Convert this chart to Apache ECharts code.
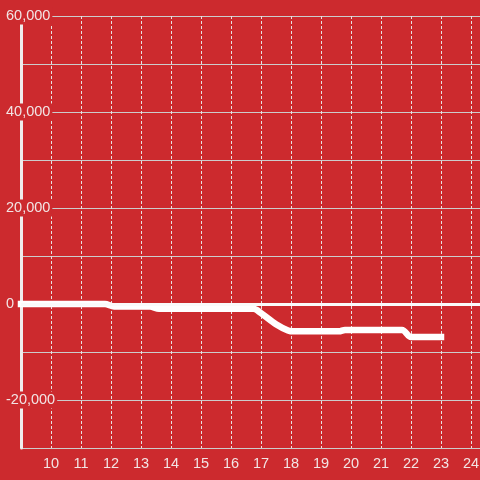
<!DOCTYPE html>
<html>
<head>
<meta charset="utf-8">
<script src="https://cdn.jsdelivr.net/npm/echarts@6/dist/echarts.min.js"></script>
<style>
  html, body { margin: 0; padding: 0; background: #cc2a2e; }
  #chart { width: 480px; height: 480px; }
</style>
</head>
<body>
<div id="chart"></div>
<script>
// hour of day and cumulative value
var hours = [9, 11.8, 12.1, 13.3, 13.6, 16.75, 17, 17.5, 17.9, 18.1, 19.6, 19.8, 21.7, 22, 23];
var values = [0, 0, -500, -500, -1000, -1000, -1900, -4200, -5500, -5700, -5700, -5400, -5400, -6900, -6900];
var yTicks = [-30000, 60000, 10000]; // min, max, step

var seriesData = hours.map(function (h, i) { return [h, values[i]]; });

var chart = echarts.init(document.getElementById('chart'));
chart.setOption({
  backgroundColor: '#cc2a2e',
  animation: false,
  grid: { left: 21, top: 16, bottom: 32, width: 480, outerBoundsMode: 'none', containLabel: false },
  xAxis: {
    type: 'value',
    min: 9,
    max: 25,
    interval: 1,
    axisLine: { show: false },
    axisTick: { show: false },
    axisLabel: {
      color: '#f2e4e4',
      fontSize: 14.5,
      margin: 8,
      fontFamily: 'Liberation Sans',
      formatter: function (v) { return v === 9 ? '' : String(v); }
    },
    splitLine: {
      show: true,
      lineStyle: { color: '#e8e0e0', width: 1, type: [3, 2] }
    }
  },
  yAxis: {
    type: 'value',
    min: yTicks[0],
    max: yTicks[1],
    interval: yTicks[2],
    axisLine: { show: true, lineStyle: { color: '#f0ecec', width: 3 } },
    axisTick: { show: false },
    axisLabel: {
      color: '#f2e4e4',
      fontSize: 14.5,
      fontFamily: 'Liberation Sans',
      align: 'left',
      margin: 15,
      backgroundColor: '#cc2a2e',
      padding: [1, 2, 1, 0],
      formatter: function (v) {
        if (v % 20000 !== 0) return '';
        return v.toLocaleString('en-US');
      }
    },
    splitLine: { show: true, lineStyle: { color: '#cccccc', width: 1 } }
  },
  series: [{
    type: 'line',
    data: seriesData,
    smooth: 0.3,
    showSymbol: false,
    lineStyle: { color: '#ffffff', width: 6.5, cap: 'square' },
    markLine: {
      silent: true,
      symbol: 'none',
      label: { show: false },
      lineStyle: { color: '#fafafa', width: 3, type: 'solid' },
      data: [{ yAxis: 0 }]
    }
  }]
});
</script>
</body>
</html>
